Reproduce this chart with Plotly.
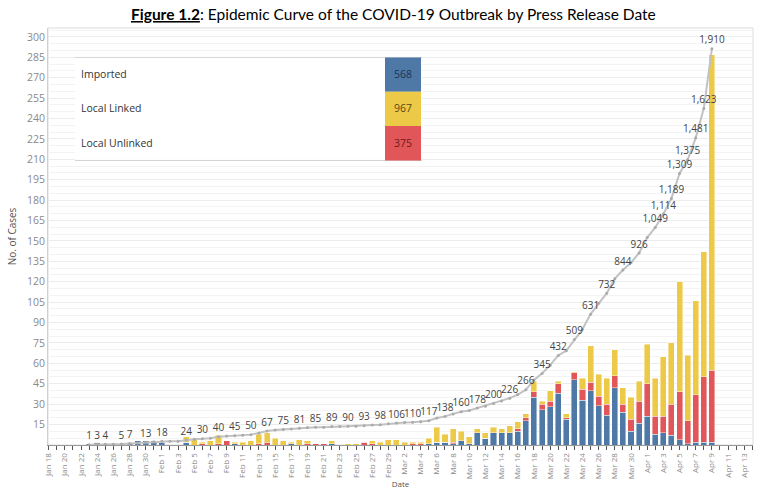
import pandas as pd
import plotly.graph_objects as go

# ---------------- data ----------------
dates = pd.date_range("2020-01-23", "2020-04-09", freq="D")

imported = ([1, 2, 1, 0, 1, 2, 3, 3, 3]
            + [2, 0, 0, 2, 0, 0, 0, 0, 0, 1, 0, 0, 0, 0, 0, 0, 1, 0, 0, 0, 0, 1, 0, 0, 0, 0, 0, 0, 0]
            + [0, 0, 0, 0, 1, 2, 2, 1, 3, 1, 9, 5, 9, 9, 9, 10, 18, 35, 26, 28, 38, 19, 48, 33, 40, 29, 22, 42, 24, 10, 16]
            + [21, 8, 9, 7, 4, 1, 2, 2, 2])

local_unlinked = ([0] * 9
                  + [0, 0, 0, 0, 0, 1, 0, 1, 3, 0, 0, 0, 1, 2, 0, 0, 0, 0, 1, 1, 1, 0, 0, 0, 0, 2, 1, 0, 0]
                  + [0, 0, 1, 1, 0, 0, 0, 1, 0, 0, 0, 0, 0, 0, 0, 2, 2, 4, 4, 4, 7, 1, 5, 8, 6, 7, 8, 9, 6, 9, 16]
                  + [24, 13, 12, 23, 35, 17, 35, 48, 53])

local_linked = ([0] * 9
                + [0, 0, 0, 4, 4, 1, 3, 6, 0, 1, 2, 3, 7, 7, 5, 3, 1, 4, 2, 0, 0, 2, 0, 1, 1, 0, 2, 2, 4]
                + [4, 2, 1, 1, 4, 11, 6, 10, 7, 5, 3, 4, 4, 3, 5, 5, 3, 8, 2, 8, 2, 3, 1, 8, 27, 16, 19, 19, 12, 16, 15]
                + [29, 28, 44, 45, 81, 48, 69, 92, 232])

cumulative = ([1, 3, 4, 4, 5, 7, 10, 13, 16]
              + [18, 18, 18, 24, 28, 30, 33, 40, 43, 45, 47, 50, 58, 67, 72, 75, 77, 81, 84, 85, 86, 89, 89, 90, 91, 93, 96, 98, 102]
              + [106, 108, 110, 112, 117, 130, 138, 150, 160, 166, 178, 187, 200, 212, 226, 243, 266, 313, 345, 385, 432, 455, 509, 558, 631, 683, 732, 802, 844, 879, 926]
              + [1000, 1049, 1114, 1189, 1309, 1375, 1481, 1623, 1910])

labeled_dates = ["2020-01-23", "2020-01-24", "2020-01-25", "2020-01-27", "2020-01-28", "2020-01-30",
                 "2020-02-01", "2020-02-04", "2020-02-06", "2020-02-08", "2020-02-10", "2020-02-12",
                 "2020-02-14", "2020-02-16", "2020-02-18", "2020-02-20", "2020-02-22", "2020-02-24",
                 "2020-02-26", "2020-02-28", "2020-03-01", "2020-03-03", "2020-03-05", "2020-03-07",
                 "2020-03-09", "2020-03-11", "2020-03-13", "2020-03-15", "2020-03-17", "2020-03-19",
                 "2020-03-21", "2020-03-23", "2020-03-25", "2020-03-27", "2020-03-29", "2020-03-31",
                 "2020-04-02", "2020-04-03", "2020-04-04", "2020-04-05", "2020-04-06", "2020-04-07",
                 "2020-04-08", "2020-04-09"]

categories = ["Imported", "Local Linked", "Local Unlinked"]
category_totals = [568, 967, 375]

# ---------------- style ----------------
BLUE, YELLOW, RED = "#4e79a7", "#edc948", "#e15759"
FONT = "Open Sans"
W, H = 767, 500
L, R, T, B = 48, 753, 28, 453  # plot-area pixel box


def px(x):
    return (x - L) / (R - L)


def py(y):
    return (B - y) / (B - T)


labset = set(labeled_dates)
cum_text = [f"{v:,}" if d.strftime("%Y-%m-%d") in labset else "" for d, v in zip(dates, cumulative)]

seg_line = dict(width=0.6, color="rgba(255,255,255,0.7)")

fig = go.Figure()
fig.add_trace(go.Bar(x=dates, y=imported, name="Imported", marker=dict(color=BLUE, line=seg_line)))
fig.add_trace(go.Bar(x=dates, y=local_unlinked, name="Local Unlinked", marker=dict(color=RED, line=seg_line)))
fig.add_trace(go.Bar(x=dates, y=local_linked, name="Local Linked", marker=dict(color=YELLOW, line=seg_line)))
fig.add_trace(go.Scatter(
    x=dates, y=cumulative, yaxis="y2", mode="lines+markers+text",
    line=dict(color="#c2c2c2", width=2),
    marker=dict(color="#ababab", size=3),
    text=cum_text, textposition="top center",
    textfont=dict(family=FONT, size=10, color="#444444"),
    cliponaxis=False, showlegend=False))

Y1_TOP = 306.5
Y2_TOP = Y1_TOP * 6.56

shapes = [
    # plot frame
    dict(type="rect", xref="paper", yref="paper", x0=0, x1=1, y0=0, y1=1,
         line=dict(color="#dcdcdc", width=1), layer="below"),
    # table background
    dict(type="rect", xref="paper", yref="paper", x0=px(75), x1=px(422), y0=py(163), y1=py(58),
         fillcolor="white", line=dict(width=0), layer="above"),
    dict(type="line", xref="paper", yref="paper", x0=px(75), x1=px(422), y0=py(58), y1=py(58),
         line=dict(color="#d4d4d4", width=1)),
    dict(type="line", xref="paper", yref="paper", x0=px(75), x1=px(422), y0=py(163), y1=py(163),
         line=dict(color="#d4d4d4", width=1)),
]
cell_colors = [BLUE, YELLOW, RED]
value_colors = ["#1f3352", "#5a4710", "#6e1b1c"]
annotations = []
row_tops = [58, 93, 128]
for i, (cat, val) in enumerate(zip(categories, category_totals)):
    y0, y1 = row_tops[i], row_tops[i] + 35
    shapes.append(dict(type="rect", xref="paper", yref="paper", x0=px(385), x1=px(421),
                       y0=py(y1), y1=py(y0), fillcolor=cell_colors[i], line=dict(width=0)))
    annotations.append(dict(xref="paper", yref="paper", x=px(79), y=py((y0 + y1) / 2 - 0.5),
                            text=cat, showarrow=False, xanchor="left", yanchor="middle",
                            font=dict(family=FONT, size=10.5, color="#333333")))
    annotations.append(dict(xref="paper", yref="paper", x=px(403), y=py((y0 + y1) / 2 - 0.5),
                            text=str(val), showarrow=False, xanchor="center", yanchor="middle",
                            font=dict(family=FONT, size=10.5, color=value_colors[i])))

annotations.append(dict(xref="paper", yref="paper", x=px(393), y=py(14),
                        text="<b><u>Figure 1.2</u></b>: Epidemic Curve of the COVID-19 Outbreak by Press Release Date",
                        showarrow=False, xanchor="center", yanchor="middle",
                        font=dict(family="Lato", size=15.5, color="#000000")))

fig.update_layout(
    width=W, height=H,
    margin=dict(l=L, r=W - R, t=T, b=H - B),
    paper_bgcolor="white", plot_bgcolor="white",
    barmode="stack", bargap=0.25,
    showlegend=False,
    font=dict(family=FONT),
    shapes=shapes, annotations=annotations,
    xaxis=dict(
        type="date",
        range=["2020-01-17 22:00", "2020-04-14 02:00"],
        tick0="2020-01-18", dtick=2 * 86400000,
        tickformat="%b %-d", tickangle=-90,
        tickfont=dict(family=FONT, size=8, color="#8a8a8a"),
        ticks="outside", ticklen=4, tickcolor="#555555", tickwidth=1,
        minor=dict(dtick=86400000, ticks="outside", ticklen=4, tickcolor="#555555", showgrid=False),
        showline=True, linecolor="#9a9a9a", linewidth=1,
        showgrid=False, zeroline=False,
        title=dict(text="Date", font=dict(family=FONT, size=8, color="#555555"), standoff=3),
    ),
    yaxis=dict(
        range=[0, Y1_TOP], tick0=0, dtick=15,
        tickvals=list(range(15, 301, 15)),
        tickfont=dict(family=FONT, size=10.5, color="#8a8a8a"),
        showgrid=True, gridcolor="#ececec", gridwidth=1,
        minor=dict(dtick=5, showgrid=True, gridcolor="#f3f3f3", gridwidth=1),
        showline=True, linecolor="#d0d0d0", zeroline=False, ticks="",
        title=dict(text="No. of Cases", font=dict(family=FONT, size=10, color="#555555"), standoff=8),
    ),
    yaxis2=dict(range=[0, Y2_TOP], overlaying="y", side="right", visible=False, showgrid=False),
)

fig.write_html("out.html")
